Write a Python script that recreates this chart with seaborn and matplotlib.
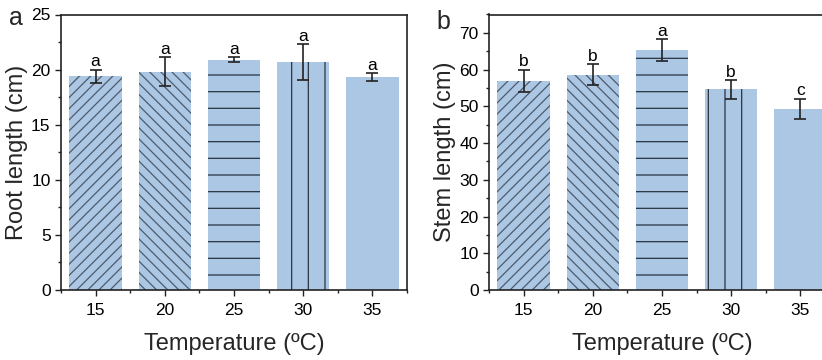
import matplotlib
matplotlib.use("Agg")
import matplotlib.pyplot as plt
import seaborn as sns
import numpy as np
import pandas as pd
from matplotlib.ticker import MultipleLocator, AutoMinorLocator

# ---- data ----
temps = ["15", "20", "25", "30", "35"]
root_mean = [19.4, 19.8, 20.9, 20.7, 19.3]
root_err = [0.58, 1.3, 0.2, 1.6, 0.37]
root_letters = ["a", "a", "a", "a", "a"]
stem_mean = [56.9, 58.6, 65.3, 54.6, 49.3]
stem_err = [3.1, 2.9, 2.9, 2.5, 2.7]
stem_letters = ["b", "b", "a", "b", "c"]
hatches = ["///", "\\\\\\", "-", "|", ""]

sns.set_theme(style="ticks")
plt.rcParams["font.family"] = ["Liberation Sans", "DejaVu Sans"]
plt.rcParams["hatch.linewidth"] = 0.9

BAR = "#acc7e3"
HATCH_DIAG = "#4d5b6c"
HATCH = "#2a3442"
FRAME = "#222222"

fig = plt.figure(figsize=(8.22, 3.6), dpi=100)
W, H = 822.0, 360.0
axA = fig.add_axes([61 / W, (H - 290) / H, 346 / W, 275.5 / H])
axB = fig.add_axes([489 / W, (H - 290) / H, 346 / W, 275.5 / H])


def panel(ax, means, errs, letters, ylim, major, ylabel, letter_off):
    df = pd.DataFrame({"T": temps, "v": means})
    sns.barplot(data=df, x="T", y="v", color=BAR, saturation=1, width=0.76,
                errorbar=None, ax=ax, zorder=2)
    for i, (p, h) in enumerate(zip(ax.patches, hatches)):
        p.set_facecolor(BAR)
        p.set_edgecolor(HATCH_DIAG if i < 2 else HATCH)
        p.set_linewidth(0)
        p.set_hatch(h)
    x = np.arange(len(temps))
    ax.errorbar(x, means, yerr=errs, fmt="none", ecolor=FRAME, elinewidth=1.2,
                capsize=4.3, capthick=1.2, zorder=3)
    for xi, m, e, l in zip(x, means, errs, letters):
        ax.text(xi, m + e + letter_off, l, ha="center", va="bottom", fontsize=12.5,
                color="black", zorder=4)
    ax.set_xlim(-0.5, 4.5)
    ax.set_ylim(*ylim)
    ax.yaxis.set_major_locator(MultipleLocator(major))
    ax.yaxis.set_minor_locator(AutoMinorLocator(2))
    ax.xaxis.set_minor_locator(MultipleLocator(0.5))
    ax.tick_params(axis="both", which="major", direction="out", length=4.5, width=1.0,
                   labelsize=12.5, color=FRAME, labelcolor="black", pad=3)
    ax.tick_params(axis="both", which="minor", direction="out", length=2.5, width=1.0,
                   color=FRAME)
    ax.tick_params(axis="x", which="major", pad=5)
    for s in ax.spines.values():
        s.set_linewidth(1.2)
        s.set_color(FRAME)
        s.set_visible(True)
    ax.set_xlabel("Temperature (ºC)", fontsize=17, labelpad=11)
    ax.set_ylabel(ylabel, fontsize=17, labelpad=2)


panel(axA, root_mean, root_err, root_letters, (0, 25), 5, "Root length (cm)", 0.05)
panel(axB, stem_mean, stem_err, stem_letters, (0, 75), 10, "Stem length (cm)", 0.15)

fig.text(9 / W, (H - 25) / H, "a", fontsize=18, ha="left", va="baseline")
fig.text(436 / W, (H - 29) / H, "b", fontsize=18, ha="left", va="baseline")

fig.savefig("out.png", dpi=100)
